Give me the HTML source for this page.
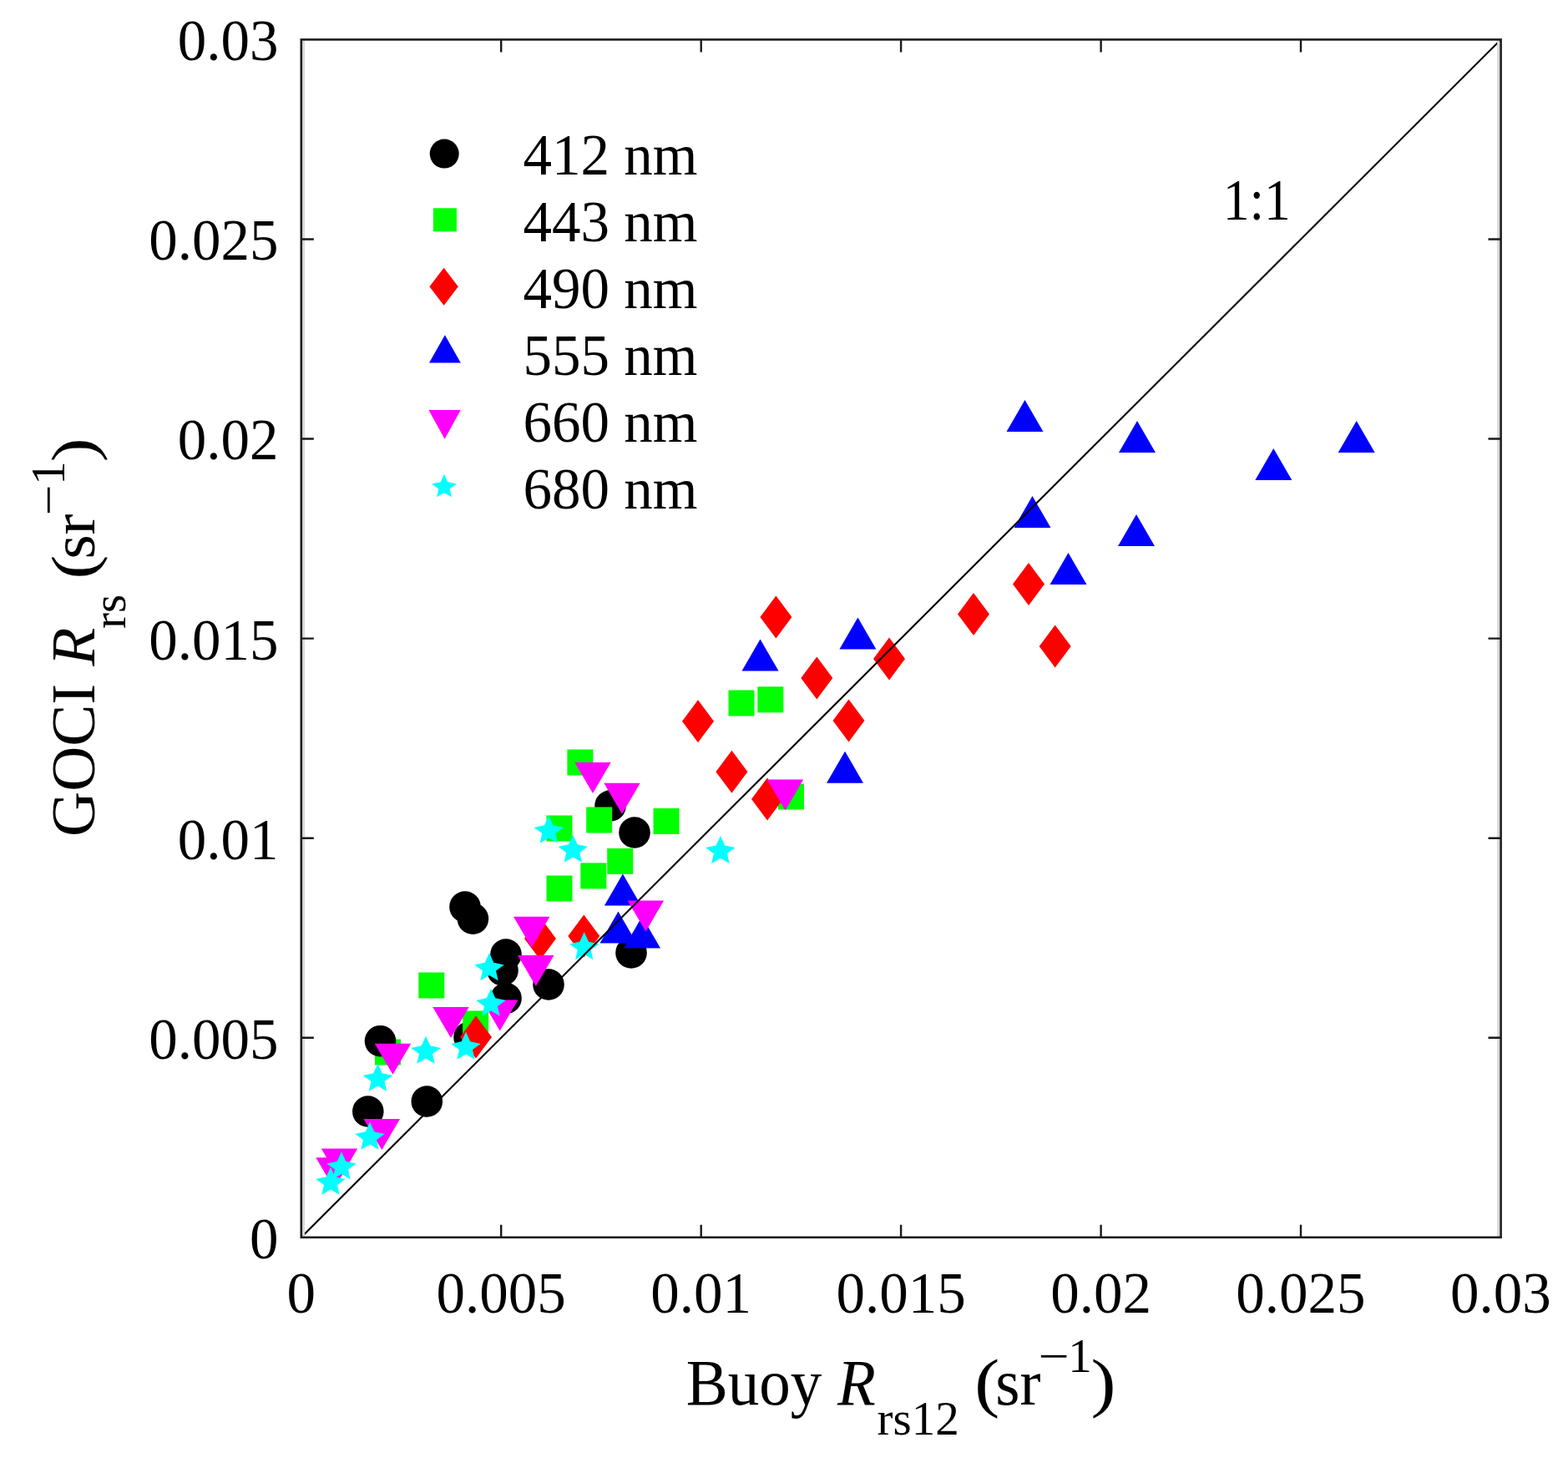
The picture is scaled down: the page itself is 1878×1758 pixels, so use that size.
<!DOCTYPE html><html><head><meta charset="utf-8"><title>GOCI vs Buoy Rrs</title><style>html,body{margin:0;padding:0;background:#fff;}svg{display:block}</style></head><body>
<svg width="1878" height="1758" viewBox="0 0 1878 1758">
<rect width="1878" height="1758" fill="#fff"/>
<g shape-rendering="geometricPrecision">
<rect x="449" y="1244.5" width="31" height="31" fill="#00ff00"/>
<circle cx="440.8" cy="1331" r="18.8" fill="#000"/>
<circle cx="511.3" cy="1319" r="18.8" fill="#000"/>
<circle cx="455.5" cy="1246.7" r="18.8" fill="#000"/>
<circle cx="557" cy="1086" r="18.8" fill="#000"/>
<circle cx="566.4" cy="1100.2" r="18.8" fill="#000"/>
<circle cx="606" cy="1143" r="18.8" fill="#000"/>
<circle cx="602" cy="1162" r="18.8" fill="#000"/>
<circle cx="606" cy="1195.5" r="18.8" fill="#000"/>
<circle cx="657" cy="1179" r="18.8" fill="#000"/>
<circle cx="756" cy="1141" r="18.8" fill="#000"/>
<circle cx="760" cy="997" r="18.8" fill="#000"/>
<circle cx="731" cy="965" r="18.8" fill="#000"/>
<circle cx="562" cy="1242" r="18.8" fill="#000"/>
<rect x="501.3" y="1164.5" width="31" height="31" fill="#00ff00"/>
<rect x="554.1" y="1210.5" width="31" height="31" fill="#00ff00"/>
<rect x="679.4" y="897.5" width="31" height="31" fill="#00ff00"/>
<rect x="702.2" y="966.5" width="31" height="31" fill="#00ff00"/>
<rect x="782.5" y="968" width="31" height="31" fill="#00ff00"/>
<rect x="654.5" y="976.5" width="31" height="31" fill="#00ff00"/>
<rect x="727.2" y="1015.9" width="31" height="31" fill="#00ff00"/>
<rect x="695.3" y="1033.4" width="31" height="31" fill="#00ff00"/>
<rect x="654.5" y="1048.5" width="31" height="31" fill="#00ff00"/>
<rect x="872.5" y="826.5" width="31" height="31" fill="#00ff00"/>
<rect x="907.3" y="822.3" width="31" height="31" fill="#00ff00"/>
<rect x="932" y="938.5" width="31" height="31" fill="#00ff00"/>
<polygon points="570,1216.5 589,1242 570,1267.5 551,1242" fill="#ff0000"/>
<polygon points="647,1098.5 666,1124 647,1149.5 628,1124" fill="#ff0000"/>
<polygon points="699.3,1095.5 718.3,1121 699.3,1146.5 680.3,1121" fill="#ff0000"/>
<polygon points="919,931.5 938,957 919,982.5 900,957" fill="#ff0000"/>
<polygon points="876.4,898.8 895.4,924.3 876.4,949.8 857.4,924.3" fill="#ff0000"/>
<polygon points="836,838.2 855,863.7 836,889.2 817,863.7" fill="#ff0000"/>
<polygon points="929.4,713.5 948.4,739 929.4,764.5 910.4,739" fill="#ff0000"/>
<polygon points="978.3,786.5 997.3,812 978.3,837.5 959.3,812" fill="#ff0000"/>
<polygon points="1065,763.5 1084,789 1065,814.5 1046,789" fill="#ff0000"/>
<polygon points="1016.5,837.5 1035.5,863 1016.5,888.5 997.5,863" fill="#ff0000"/>
<polygon points="1166,710 1185,735.5 1166,761 1147,735.5" fill="#ff0000"/>
<polygon points="1232,673.9 1251,699.4 1232,724.9 1213,699.4" fill="#ff0000"/>
<polygon points="1263.7,748.5 1282.7,774 1263.7,799.5 1244.7,774" fill="#ff0000"/>
<polygon points="1227.5,479 1249.5,517 1205.5,517" fill="#0000ff"/>
<polygon points="1362,504 1384,542 1340,542" fill="#0000ff"/>
<polygon points="1624.7,504 1646.7,542 1602.7,542" fill="#0000ff"/>
<polygon points="1525.3,537 1547.3,575 1503.3,575" fill="#0000ff"/>
<polygon points="1236.5,594 1258.5,632 1214.5,632" fill="#0000ff"/>
<polygon points="1361,616 1383,654 1339,654" fill="#0000ff"/>
<polygon points="1279.5,662 1301.5,700 1257.5,700" fill="#0000ff"/>
<polygon points="910.5,765.5 932.5,803.5 888.5,803.5" fill="#0000ff"/>
<polygon points="1027.4,739.5 1049.4,777.5 1005.4,777.5" fill="#0000ff"/>
<polygon points="1012,899.7 1034,937.7 990,937.7" fill="#0000ff"/>
<polygon points="745.9,1046.4 767.9,1084.4 723.9,1084.4" fill="#0000ff"/>
<polygon points="740.5,1091.6 762.5,1129.6 718.5,1129.6" fill="#0000ff"/>
<polygon points="769,1097.5 791,1135.5 747,1135.5" fill="#0000ff"/>
<polygon points="384.8,1375.5 428.2,1375.5 406.5,1412.5" fill="#ff00ff"/>
<polygon points="378.3,1386.3 421.7,1386.3 400,1423.3" fill="#ff00ff"/>
<polygon points="448.8,1249.8 492.2,1249.8 470.5,1286.8" fill="#ff00ff"/>
<polygon points="518.3,1206 561.7,1206 540,1243" fill="#ff00ff"/>
<polygon points="577,1197.5 620.4,1197.5 598.7,1234.5" fill="#ff00ff"/>
<polygon points="620.1,1144 663.5,1144 641.8,1181" fill="#ff00ff"/>
<polygon points="615,1097.8 658.4,1097.8 636.7,1134.8" fill="#ff00ff"/>
<polygon points="751.7,1078.5 795.1,1078.5 773.4,1115.5" fill="#ff00ff"/>
<polygon points="723.3,937.8 766.7,937.8 745,974.8" fill="#ff00ff"/>
<polygon points="688.3,913.1 731.7,913.1 710,950.1" fill="#ff00ff"/>
<polygon points="918.8,933.5 962.2,933.5 940.5,970.5" fill="#ff00ff"/>
<polygon points="435.6,1340 479,1340 457.3,1377" fill="#ff00ff"/>
<polygon points="409,1379.3 414.3,1390.8 426.7,1393.4 417,1400.5 419.7,1412.2 409,1406.1 398.3,1412.2 401,1400.5 391.3,1393.4 403.7,1390.8" fill="#00ffff"/>
<polygon points="396,1397.8 401.3,1409.3 413.7,1411.9 404,1419 406.7,1430.7 396,1424.6 385.3,1430.7 388,1419 378.3,1411.9 390.7,1409.3" fill="#00ffff"/>
<polygon points="443,1343.8 448.3,1355.3 460.7,1357.9 451,1365 453.7,1376.7 443,1370.6 432.3,1376.7 435,1365 425.3,1357.9 437.7,1355.3" fill="#00ffff"/>
<polygon points="452.5,1273.8 457.8,1285.3 470.2,1287.9 460.5,1295 463.2,1306.7 452.5,1300.6 441.8,1306.7 444.5,1295 434.8,1287.9 447.2,1285.3" fill="#00ffff"/>
<polygon points="510,1240.8 515.3,1252.3 527.7,1254.9 518,1262 520.7,1273.7 510,1267.6 499.3,1273.7 502,1262 492.3,1254.9 504.7,1252.3" fill="#00ffff"/>
<polygon points="558,1235.8 563.3,1247.3 575.7,1249.9 566,1257 568.7,1268.7 558,1262.6 547.3,1268.7 550,1257 540.3,1249.9 552.7,1247.3" fill="#00ffff"/>
<polygon points="586,1141.3 591.3,1152.8 603.7,1155.4 594,1162.5 596.7,1174.2 586,1168.1 575.3,1174.2 578,1162.5 568.3,1155.4 580.7,1152.8" fill="#00ffff"/>
<polygon points="588,1183.8 593.3,1195.3 605.7,1197.9 596,1205 598.7,1216.7 588,1210.6 577.3,1216.7 580,1205 570.3,1197.9 582.7,1195.3" fill="#00ffff"/>
<polygon points="699.7,1116.3 705,1127.8 717.4,1130.4 707.7,1137.5 710.4,1149.2 699.7,1143.1 689,1149.2 691.7,1137.5 682,1130.4 694.4,1127.8" fill="#00ffff"/>
<polygon points="657.3,976.8 662.6,988.3 675,990.9 665.3,998 668,1009.7 657.3,1003.6 646.6,1009.7 649.3,998 639.6,990.9 652,988.3" fill="#00ffff"/>
<polygon points="686.3,999.8 691.6,1011.3 704,1013.9 694.3,1021 697,1032.7 686.3,1026.6 675.6,1032.7 678.3,1021 668.6,1013.9 681,1011.3" fill="#00ffff"/>
<polygon points="862.9,1001 868.2,1012.5 880.6,1015.1 870.9,1022.2 873.6,1033.9 862.9,1027.8 852.2,1033.9 854.9,1022.2 845.2,1015.1 857.6,1012.5" fill="#00ffff"/>
</g>
<line x1="360.8" y1="1481.8" x2="1797.5" y2="47.4" stroke="#000" stroke-width="2.1"/>
<g stroke="#dadada" stroke-width="3" fill="none">
<line x1="363.6" y1="47.4" x2="363.6" y2="1481.8"/>
<line x1="1794.6" y1="47.4" x2="1794.6" y2="1481.8"/>
</g>
<path d="M600.2 1481.8V1466.8M600.2 47.4V62.4M360.8 1242.7H375.8M1797.5 1242.7H1782.5M839.7 1481.8V1466.8M839.7 47.4V62.4M360.8 1003.7H375.8M1797.5 1003.7H1782.5M1079.1 1481.8V1466.8M1079.1 47.4V62.4M360.8 764.6H375.8M1797.5 764.6H1782.5M1318.6 1481.8V1466.8M1318.6 47.4V62.4M360.8 525.5H375.8M1797.5 525.5H1782.5M1558 1481.8V1466.8M1558 47.4V62.4M360.8 286.5H375.8M1797.5 286.5H1782.5" stroke="#1a1a1a" stroke-width="2.4" fill="none"/>
<rect x="360.8" y="47.4" width="1436.8" height="1434.4" fill="none" stroke="#1e1e1e" stroke-width="2.6"/>
<g font-family="Liberation Serif, 'Times New Roman', serif" fill="#000">
<text x="333.5" y="1506.8" font-size="69" text-anchor="end" transform="matrix(1 0 0 1.025 0 -37.7)">0</text>
<text x="360.8" y="1571.5" font-size="69" text-anchor="middle" transform="matrix(1 0 0 1.02 0 -31.4)">0</text>
<text x="333.5" y="1267.7" font-size="69" text-anchor="end" transform="matrix(1 0 0 1.025 0 -31.7)">0.005</text>
<text x="600.2" y="1571.5" font-size="69" text-anchor="middle" transform="matrix(1 0 0 1.02 0 -31.4)">0.005</text>
<text x="333.5" y="1028.7" font-size="69" text-anchor="end" transform="matrix(1 0 0 1.025 0 -25.7)">0.01</text>
<text x="839.7" y="1571.5" font-size="69" text-anchor="middle" transform="matrix(1 0 0 1.02 0 -31.4)">0.01</text>
<text x="333.5" y="789.6" font-size="69" text-anchor="end" transform="matrix(1 0 0 1.025 0 -19.7)">0.015</text>
<text x="1079.1" y="1571.5" font-size="69" text-anchor="middle" transform="matrix(1 0 0 1.02 0 -31.4)">0.015</text>
<text x="333.5" y="550.5" font-size="69" text-anchor="end" transform="matrix(1 0 0 1.025 0 -13.8)">0.02</text>
<text x="1318.6" y="1571.5" font-size="69" text-anchor="middle" transform="matrix(1 0 0 1.02 0 -31.4)">0.02</text>
<text x="333.5" y="311.5" font-size="69" text-anchor="end" transform="matrix(1 0 0 1.025 0 -7.8)">0.025</text>
<text x="1558" y="1571.5" font-size="69" text-anchor="middle" transform="matrix(1 0 0 1.02 0 -31.4)">0.025</text>
<text x="333.5" y="72.4" font-size="69" text-anchor="end" transform="matrix(1 0 0 1.025 0 -1.8)">0.03</text>
<text x="1797.5" y="1571.5" font-size="69" text-anchor="middle" transform="matrix(1 0 0 1.02 0 -31.4)">0.03</text>
<text x="626.5" y="208.8" font-size="69" transform="matrix(1 0 0 1.02 0 -4.2)">412 nm</text>
<text x="626.5" y="288.8" font-size="69" transform="matrix(1 0 0 1.02 0 -5.8)">443 nm</text>
<text x="626.5" y="368.8" font-size="69" transform="matrix(1 0 0 1.02 0 -7.4)">490 nm</text>
<text x="626.5" y="448.8" font-size="69" transform="matrix(1 0 0 1.02 0 -9)">555 nm</text>
<text x="626.5" y="528.8" font-size="69" transform="matrix(1 0 0 1.02 0 -10.6)">660 nm</text>
<text x="626.5" y="608.8" font-size="69" transform="matrix(1 0 0 1.02 0 -12.2)">680 nm</text>
<text x="1505.2" y="263" font-size="69" text-anchor="middle" textLength="81" lengthAdjust="spacingAndGlyphs">1:1</text>
<text x="821.8" y="1682" font-size="75" transform="matrix(1 0 0 1.045 0 -75.7)">Buoy</text>
<text x="1003" y="1682" font-size="75" transform="matrix(1 0 0 1.045 0 -75.7)" font-style="italic">R</text>
<text x="1050.5" y="1718" font-size="57">rs12</text>
<text x="1167.2" y="1682" font-size="75" textLength="30" lengthAdjust="spacingAndGlyphs" transform="matrix(1 0 0 1.045 0 -75.7)">(</text>
<text x="1192.3" y="1682" font-size="75" transform="matrix(1 0 0 1.045 0 -75.7)">sr</text>
<text x="1243.5" y="1643" font-size="57" textLength="37" lengthAdjust="spacingAndGlyphs">−</text>
<text x="1279.2" y="1643" font-size="57">1</text>
<text x="1306.4" y="1682" font-size="75" textLength="30" lengthAdjust="spacingAndGlyphs" transform="matrix(1 0 0 1.045 0 -75.7)">)</text>
<g transform="translate(112.5 1000) rotate(-90)">
<text x="-2" y="0" font-size="75">GOCI</text>
<text x="202.4" y="0" font-size="75" font-style="italic">R</text>
<text x="247" y="37.5" font-size="57">rs</text>
<text x="306.55" y="0" font-size="75" textLength="28.75" lengthAdjust="spacingAndGlyphs">(</text>
<text x="330.4" y="0" font-size="75">sr</text>
<text x="382.6" y="-36" font-size="57" textLength="37" lengthAdjust="spacingAndGlyphs">−</text>
<text x="419.3" y="-36" font-size="57">1</text>
<text x="446.7" y="0" font-size="75" textLength="28.75" lengthAdjust="spacingAndGlyphs">)</text>
</g>
</g>
<g><circle cx="532.2" cy="184.1" r="17.5" fill="#000"/><rect x="518.9" y="249.3" width="28" height="28" fill="#00ff00"/><polygon points="531.6,320.7 548.8,343.2 531.6,365.7 514.4,343.2" fill="#ff0000"/><polygon points="532.9,401.2 551.8,434.6 514,434.6" fill="#0000ff"/><polygon points="513.4,490.9 551.8,490.9 532.6,525.7" fill="#ff00ff"/><polygon points="532,567.7 536.4,577.3 546.8,579.5 538.7,585.4 540.9,595.2 532,590 523.1,595.2 525.3,585.4 517.2,579.5 527.6,577.3" fill="#00ffff"/></g>
</svg></body></html>
